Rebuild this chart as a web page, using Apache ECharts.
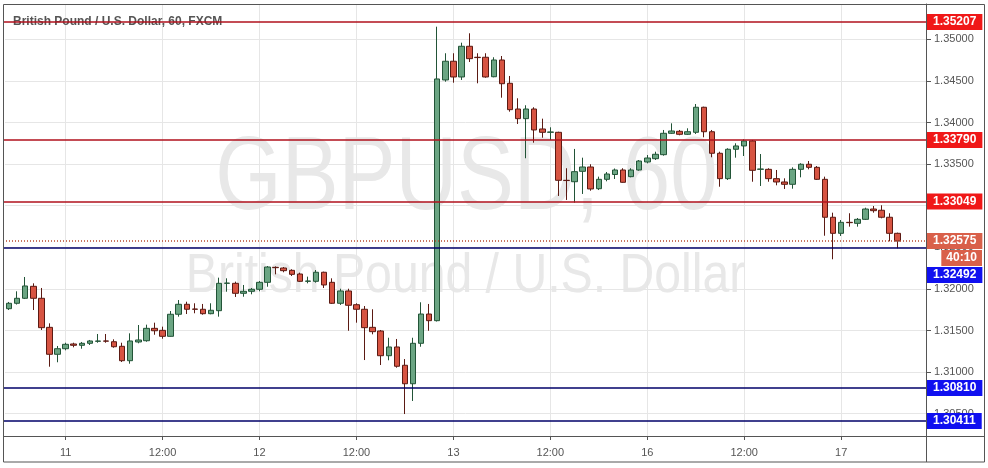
<!DOCTYPE html>
<html><head><meta charset="utf-8">
<script src="https://cdn.jsdelivr.net/npm/echarts@6/dist/echarts.min.js"></script>
<style>html,body{margin:0;padding:0;background:#fff}#c{width:988px;height:468px}</style>
</head><body><div id="c"></div>
<script>
// ---- data ----
const title = "British Pound / U.S. Dollar, 60, FXCM";
const watermarkMain = "GBPUSD, 60";
const watermarkSub = "British Pound / U.S. Dollar";
// trading sessions: [day, first hour, last hour] (last segment padded with empty future slots)
const sessions = [["10",17,23],["11",0,23],["12",0,23],["13",0,21],["15",22,23],["16",0,23],["17",0,10]];
const xTickLabels = {"11 00:00":"11","11 12:00":"12:00","12 00:00":"12","12 12:00":"12:00","13 00:00":"13","13 12:00":"12:00","16 00:00":"16","16 12:00":"12:00","17 00:00":"17"};
const open = [1.31762,1.31827,1.31887,1.32031,1.31887,1.31538,1.31214,1.31281,1.31338,1.31322,1.31346,1.31370,1.31374,1.31365,1.31310,1.31137,1.31362,1.31377,1.31526,1.31502,1.31430,1.31695,1.31815,1.31758,1.31755,1.31702,1.31738,1.32067,1.32067,1.31947,1.31971,1.31995,1.32079,1.32259,1.32251,1.32223,1.32179,1.32091,1.32091,1.32200,1.32079,1.31827,1.31975,1.31810,1.31755,1.31538,1.31494,1.31197,1.31302,1.31082,1.30860,1.31346,1.31698,1.31618,1.34511,1.34736,1.34547,1.34916,1.34784,1.34784,1.34550,1.34751,1.34471,1.34162,1.34046,1.34162,1.33922,1.33882,1.33882,1.33305,1.33288,1.33413,1.33465,1.33204,1.33317,1.33375,1.33429,1.33349,1.33429,1.33525,1.33565,1.33613,1.33870,1.33894,1.33858,1.33882,1.34183,1.33889,1.33630,1.33325,1.33678,1.33718,1.33778,1.33437,1.33437,1.33325,1.33285,1.33257,1.33437,1.33498,1.33461,1.33317,1.32861,1.32668,1.32800,1.32788,1.32836,1.32960,1.32945,1.32861,1.32668];
const close = [1.31827,1.31887,1.32035,1.31887,1.31534,1.31214,1.31281,1.31334,1.31322,1.31346,1.31374,1.31374,1.31372,1.31305,1.31137,1.31374,1.31386,1.31526,1.31497,1.31430,1.31695,1.31815,1.31755,1.31755,1.31702,1.31743,1.32067,1.32070,1.31947,1.31971,1.31995,1.32079,1.32263,1.32255,1.32219,1.32175,1.32091,1.32095,1.32200,1.32047,1.31827,1.31975,1.31803,1.31755,1.31534,1.31486,1.31197,1.31302,1.31070,1.30860,1.31346,1.31698,1.31618,1.34523,1.34736,1.34547,1.34916,1.34767,1.34780,1.34547,1.34751,1.34466,1.34154,1.34046,1.34162,1.33910,1.33882,1.33886,1.33305,1.33302,1.33409,1.33465,1.33201,1.33317,1.33381,1.33429,1.33281,1.33429,1.33537,1.33573,1.33618,1.33870,1.33898,1.33858,1.33889,1.34183,1.33889,1.33630,1.33325,1.33678,1.33718,1.33778,1.33425,1.33441,1.33325,1.33285,1.33257,1.33437,1.33498,1.33461,1.33317,1.32861,1.32668,1.32800,1.32796,1.32836,1.32960,1.32940,1.32861,1.32668,1.32575];
const high = [1.31843,1.31971,1.32143,1.32067,1.32011,1.31586,1.31314,1.31353,1.31353,1.31362,1.31386,1.31458,1.31458,1.31394,1.31353,1.31466,1.31566,1.31570,1.31594,1.31546,1.31734,1.31866,1.31846,1.31827,1.31819,1.31827,1.32135,1.32127,1.32087,1.32047,1.32011,1.32095,1.32275,1.32271,1.32263,1.32236,1.32195,1.32147,1.32227,1.32207,1.32127,1.32002,1.32002,1.31827,1.31794,1.31755,1.31506,1.31413,1.31398,1.31157,1.31413,1.31839,1.31819,1.35151,1.34832,1.34832,1.34959,1.35072,1.34832,1.34832,1.34784,1.34799,1.34559,1.34291,1.34207,1.34183,1.34046,1.33942,1.33889,1.33450,1.33682,1.33577,1.33498,1.33349,1.33405,1.33447,1.33450,1.33450,1.33549,1.33609,1.33649,1.33910,1.33990,1.33910,1.33930,1.34222,1.34190,1.33910,1.33649,1.33690,1.33750,1.33798,1.33790,1.33621,1.33450,1.33429,1.33329,1.33461,1.33510,1.33537,1.33477,1.33349,1.32916,1.32828,1.32909,1.32852,1.32976,1.32996,1.33005,1.32909,1.32676];
const low = [1.31746,1.31812,1.31878,1.31746,1.31506,1.31065,1.31118,1.31262,1.31298,1.31281,1.31326,1.31353,1.31353,1.31293,1.31121,1.31101,1.31346,1.31365,1.31449,1.31401,1.31426,1.31666,1.31698,1.31707,1.31690,1.31695,1.31666,1.31966,1.31903,1.31906,1.31935,1.31971,1.32026,1.32175,1.32200,1.32155,1.32083,1.32067,1.32075,1.32011,1.31819,1.31807,1.31497,1.31594,1.31145,1.31454,1.31085,1.31142,1.31053,1.30496,1.30653,1.31305,1.31497,1.31608,1.34490,1.34478,1.34511,1.34727,1.34471,1.34538,1.34543,1.34298,1.34130,1.33982,1.33570,1.33757,1.33817,1.33790,1.33117,1.33069,1.33036,1.33141,1.33180,1.33188,1.33293,1.33321,1.33276,1.33341,1.33421,1.33509,1.33549,1.33601,1.33862,1.33846,1.33850,1.33862,1.33822,1.33582,1.33228,1.33309,1.33577,1.33597,1.33288,1.33237,1.33288,1.33245,1.33201,1.33204,1.33341,1.33437,1.33309,1.32639,1.32356,1.32636,1.32748,1.32748,1.32828,1.32916,1.32848,1.32572,1.32488];
const redLevels = [1.35207, 1.33790, 1.33049];
const blueLevels = [1.32492, 1.30810, 1.30411];
const lastPrice = 1.32575;
const countdown = "40:10";
const yMin = 1.30232, yMax = 1.35424, yStep = 0.005;

// ---- build ----
const categories = [];
sessions.forEach(([d, s, e]) => { for (let h = s; h <= e; h++) categories.push(d + " " + String(h).padStart(2, "0") + ":00"); });
const ohlc = open.map((o, i) => [o, close[i], low[i], high[i]]);

const FONT = '"Liberation Sans", Arial, sans-serif';
const W = 988, H = 468;
const G = {left: 5, top: 4, right: 62, bottom: 32};
const gx2 = W - G.right, gy2 = H - G.bottom;
const isTick = (i, v) => Object.prototype.hasOwnProperty.call(xTickLabels, v);

const RED_LINE = '#b0101c', RED_BOX = '#f01818', BLUE_LINE = '#000068', BLUE_BOX = '#1010f0', LAST_LINE = '#b84a2c', LAST_BOX = '#d9604a';
const lvl = (v, box) => ({yAxis: v, lineStyle: {color: 'rgba(0,0,0,0)', width: 0}, label: {backgroundColor: box}});
const markData = [
  ...redLevels.map(v => lvl(v, RED_BOX)),
  ...blueLevels.map(v => lvl(v, BLUE_BOX)),
  lvl(lastPrice, LAST_BOX)
];
// the 1.32492 box is stacked below the last-price boxes (drawn as graphic)
markData[3].label.show = false;

const chart = echarts.init(document.getElementById('c'), null, {renderer: 'canvas'});
chart.setOption({
  animation: false,
  backgroundColor: '#ffffff',
  grid: {left: G.left, top: G.top, right: G.right, bottom: G.bottom, containLabel: false},
  xAxis: {
    type: 'category', data: categories, boundaryGap: true,
    axisLine: {show: true, lineStyle: {color: '#555'}},
    axisTick: {show: true, alignWithLabel: true, length: 4, interval: isTick, lineStyle: {color: '#555'}},
    axisLabel: {interval: isTick, formatter: v => xTickLabels[v] || '', color: '#555', fontSize: 11, margin: 11, fontFamily: FONT},
    splitLine: {show: true, alignWithLabel: true, interval: isTick, lineStyle: {color: '#e6e6e6'}}
  },
  yAxis: {
    type: 'value', position: 'right', min: yMin, max: yMax, splitNumber: 10, minInterval: yStep, maxInterval: yStep,
    axisLine: {show: true, lineStyle: {color: '#555'}},
    axisTick: {show: true, length: 5, lineStyle: {color: '#555'}},
    axisLabel: {color: '#555', fontSize: 11, margin: 8, fontFamily: FONT, showMinLabel: false, showMaxLabel: false,
      formatter: v => v.toFixed(5)},
    splitLine: {show: true, lineStyle: {color: '#e6e6e6'}}
  },
  series: [{
    type: 'candlestick', data: ohlc, barWidth: 6,
    itemStyle: {color: '#6ba583', color0: '#d75442', borderColor: '#225437', borderColor0: '#5b1a13', borderWidth: 1},
    markLine: {
      symbol: 'none', silent: true, animation: false, precision: 5,
      label: {show: true, position: 'end', distance: 1, formatter: p => Number(p.value).toFixed(5),
        color: '#fff', fontWeight: 'bold', fontSize: 12, fontFamily: FONT, padding: [2, 6, 2, 6], lineHeight: 12, opacity: 1},
      data: markData
    }
  }]
});

const py = v => Math.round(chart.convertToPixel({yAxisIndex: 0}, v));
const yLast = chart.convertToPixel({yAxisIndex: 0}, lastPrice);
const hline = (v, color, dash) => ({type: 'line', z: 3, silent: true,
  shape: {x1: G.left - 2, y1: py(v), x2: gx2, y2: py(v)},
  style: {stroke: color, lineWidth: 1.4, lineDash: dash || null}});
const boxStyle = (text, align, bg, pad) => ({
  text, x: 0, y: 0, align, textAlign: align, verticalAlign: 'middle', textVerticalAlign: 'middle',
  font: 'bold 12px ' + FONT, fill: '#fff', backgroundColor: bg, padding: pad, lineHeight: 12
});
chart.setOption({
  graphic: {elements: [
    {type: 'text', z: -10, x: (G.left + gx2) / 2 + 1, y: 180, scaleX: 0.82,
      style: {text: watermarkMain, font: '104px ' + FONT, fill: '#e8e8e8', align: 'center', textAlign: 'center', verticalAlign: 'middle', textVerticalAlign: 'middle'}},
    {type: 'text', z: -10, x: (G.left + gx2) / 2, y: 277, scaleX: 0.86,
      style: {text: watermarkSub, font: '56px ' + FONT, fill: '#e8e8e8', align: 'center', textAlign: 'center', verticalAlign: 'middle', textVerticalAlign: 'middle'}},
    {type: 'text', z: 1, x: 13, y: 22,
      style: {text: title, font: 'bold 12px ' + FONT, fill: '#555555', align: 'left', textAlign: 'left', verticalAlign: 'middle', textVerticalAlign: 'middle'}},
    ...redLevels.map(v => hline(v, RED_LINE)),
    ...blueLevels.map(v => hline(v, BLUE_LINE)),
    hline(lastPrice, LAST_LINE, [1, 2]),
    {type: 'text', z: 100, x: W - 6, y: yLast + 17, style: boxStyle(countdown, 'right', LAST_BOX, [2, 5, 2, 5])},
    {type: 'text', z: 100, x: gx2 + 1, y: yLast + 34, style: boxStyle(blueLevels[0].toFixed(5), 'left', BLUE_BOX, [2, 6, 2, 6])},
    {type: 'rect', z: 90, shape: {x: 3.5, y: 4.5, width: W - 7, height: H - 10.5}, style: {fill: null, stroke: '#555', lineWidth: 1}},
    {type: 'line', z: 90, shape: {x1: 3, y1: gy2 + 0.5, x2: W - 4, y2: gy2 + 0.5}, style: {stroke: '#555', lineWidth: 1}},
    {type: 'line', z: 90, shape: {x1: gx2 + 0.5, y1: 4, x2: gx2 + 0.5, y2: H - 6}, style: {stroke: '#555', lineWidth: 1}}
  ]}
});
</script></body></html>
